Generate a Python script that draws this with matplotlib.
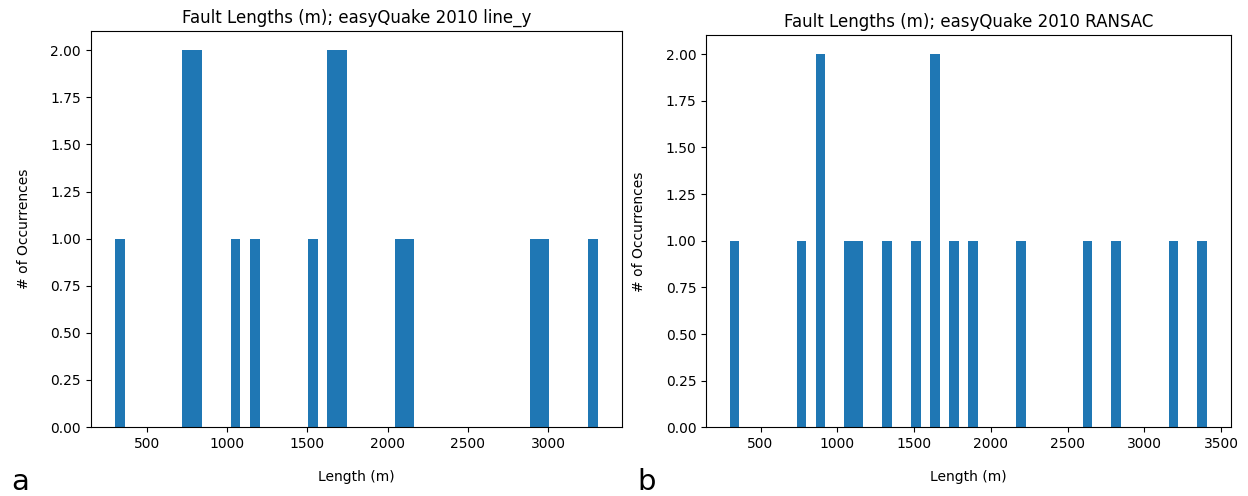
import matplotlib
matplotlib.use("Agg")
import matplotlib.pyplot as plt

# Fault lengths (m)
lengths_line_y = [301, 745, 760, 805, 820, 1050, 1170, 1530,
                  1648, 1660, 1708, 1720, 2070, 2130, 2915, 2975, 3308]
lengths_ransac = [300, 766, 885, 895, 1077, 1139, 1325, 1511,
                  1630, 1642, 1760, 1884, 2195, 2630, 2817, 3190, 3407]
n_bins = 50
titles = ["Fault Lengths (m); easyQuake 2010 line_y",
          "Fault Lengths (m); easyQuake 2010 RANSAC"]
panel_labels = ["a", "b"]

fig = plt.figure(figsize=(12.48, 4.96), dpi=100)
ax1 = fig.add_axes([0.0727, 0.1391, 0.4255, 0.7974])
ax2 = fig.add_axes([0.5657, 0.1385, 0.4204, 0.7900])

for ax, data, title in zip([ax1, ax2], [lengths_line_y, lengths_ransac], titles):
    ax.hist(data, bins=n_bins, color="#1f77b4")
    ax.set_title(title, fontsize=12)
    ax.set_xlabel("Length (m)", labelpad=14)
    ax.set_ylabel("# of Occurrences", labelpad=14)
    ax.yaxis.set_major_formatter(matplotlib.ticker.FormatStrFormatter("%.2f"))

fig.text(0.009, 0.012, panel_labels[0], fontsize=21)
fig.text(0.511, 0.012, panel_labels[1], fontsize=21)

fig.savefig("out.png", dpi=100)
